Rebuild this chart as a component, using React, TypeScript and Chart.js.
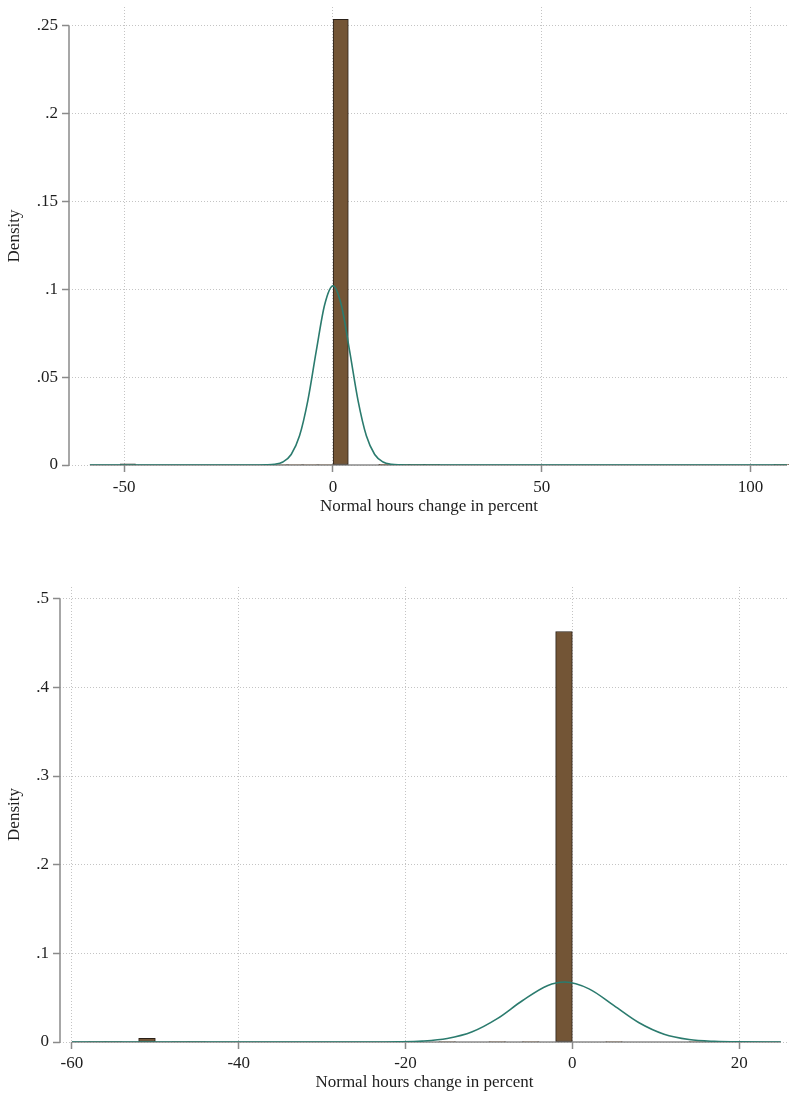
import React, { useEffect, useRef } from "react";
import { Chart, registerables } from "chart.js";

Chart.register(...registerables);

const FONT = "'Liberation Serif', 'DejaVu Serif', serif";
const TEXT = "#1e1e1e";
const BAR_FILL = "#735536";
const BAR_EDGE = "#2a2018";
const CURVE = "#2b7b6e";
const AXIS = "#8a8a8a";
const GRID = "#c4c4c4";

// ---------- Top panel data ----------
const topBinStart = -58.2;
const topBinWidth = 3.64;
const topDensity = [
  0, 0, 0.0006, 0, 0, 0, 0, 0, 0, 0,
  0, 0, 0.0003, 0.0003, 0.0003, 0.0003, 0.2538, 0, 0, 0.0002,
  0.0002, 0.0002, 0.0002, 0, 0, 0, 0, 0, 0, 0,
  0, 0, 0, 0, 0, 0, 0, 0, 0, 0,
  0, 0, 0, 0, 0, 0.0002,
];
const topCurveX = [-58.2, -30, -20, -16, -14, -12, -10, -8, -6, -4, -2, 0, 2, 4, 6, 8, 10, 12, 14, 16, 20, 30, 60, 108.7];
const topCurveY = [0, 0, 0, 0.0001, 0.0004, 0.0017, 0.006, 0.0166, 0.0368, 0.0648, 0.0911, 0.102, 0.0911, 0.0648, 0.0368, 0.0166, 0.006, 0.0017, 0.0004, 0.0001, 0, 0, 0, 0];
const topXTicks = [-50, 0, 50, 100];
const topYTicks = [0, 0.05, 0.1, 0.15, 0.2, 0.25];
const topXAxisSpan = [-58.2, 108.7];
const topYAxisSpan = [0, 0.25];
const topXLimits = [-63.2, 109.2];
const topYMax = 0.2608;

// ---------- Bottom panel data ----------
const botBinStart = -60;
const botBinWidth = 2;
const botDensity = [
  0, 0.0006, 0.0006, 0, 0.004, 0, 0.0006, 0.0006, 0, 0,
  0, 0, 0, 0, 0, 0, 0, 0, 0, 0,
  0, 0, 0.0006, 0, 0, 0.0006, 0, 0.0006, 0, 0.463,
  0, 0, 0.0006, 0, 0, 0, 0, 0.0006, 0, 0,
  0, 0, 0,
];
const botCurveX = [-60, -30, -24, -21, -18, -15, -12, -9, -6, -3, -0.9, 2, 5, 8, 11, 14, 17, 20, 25];
const botCurveY = [0, 0, 0, 0.0002, 0.001, 0.0039, 0.0115, 0.0263, 0.0465, 0.0635, 0.0676, 0.0599, 0.041, 0.0217, 0.0088, 0.0028, 0.0007, 0.0001, 0];
const botXTicks = [-60, -40, -20, 0, 20];
const botYTicks = [0, 0.1, 0.2, 0.3, 0.4, 0.5];
const botXAxisSpan = [-60, 25];
const botYAxisSpan = [0, 0.5];
const botXLimits = [-61.43, 25.98];
const botYMax = 0.5132;

const X_TITLE = "Normal hours change in percent";
const Y_TITLE = "Density";

const fmtY = (v: number) => {
  const s = String(+Number(v).toFixed(4));
  return s.replace(/^0\./, ".").replace(/^-0\./, "-.");
};

const axisLinesPlugin = {
  id: "axisLines",
  beforeDatasetsDraw(chart: any, _args: any, opts: any) {
    const { ctx, scales } = chart;
    const x = scales.x;
    const y = scales.y;
    ctx.save();
    ctx.strokeStyle = AXIS;
    ctx.lineWidth = 1.5;
    ctx.setLineDash([]);
    ctx.beginPath();
    const yb = y.getPixelForValue(0);
    ctx.moveTo(x.getPixelForValue(opts.xSpan[0]), yb);
    ctx.lineTo(x.getPixelForValue(opts.xSpan[1]), yb);
    const xl = chart.chartArea.left;
    ctx.moveTo(xl, y.getPixelForValue(opts.ySpan[0]) + 0.75);
    ctx.lineTo(xl, y.getPixelForValue(opts.ySpan[1]));
    ctx.stroke();
    ctx.restore();
  },
};

type PanelProps = {
  top: number;
  height: number;
  binStart: number;
  binWidth: number;
  density: number[];
  curveX: number[];
  curveY: number[];
  xTicks: number[];
  yTicks: number[];
  xSpan: number[];
  ySpan: number[];
  xLimits: number[];
  yMax: number;
  yAxisWidth: number;
  xAxisHeight: number;
  xTitlePadBottom: number;
  tickPad: number;
};

function Panel(p: PanelProps) {
  const ref = useRef<HTMLCanvasElement | null>(null);
  useEffect(() => {
    if (!ref.current) return;
    const bars = p.density.map((d, i) => ({ x: p.binStart + (i + 0.5) * p.binWidth, y: d }));
    const curve = p.curveX.map((x, i) => ({ x, y: p.curveY[i] }));
    const chart = new Chart(ref.current, {
      type: "bar",
      data: {
        datasets: [
          {
            type: "line",
            data: curve,
            borderColor: CURVE,
            borderWidth: 1.6,
            pointRadius: 0,
            fill: false,
            cubicInterpolationMode: "monotone",
            order: 0,
          } as any,
          {
            type: "bar",
            data: bars,
            backgroundColor: BAR_FILL,
            borderColor: BAR_EDGE,
            borderWidth: 1,
            borderSkipped: false,
            barPercentage: 1,
            categoryPercentage: 1,
            grouped: false,
            order: 1,
          } as any,
        ],
      },
      options: {
        animation: false,
        responsive: false,
        maintainAspectRatio: false,
        events: [],
        layout: { padding: { top: 7, right: 2, left: 0, bottom: 0 } },
        plugins: {
          legend: { display: false },
          tooltip: { enabled: false },
          axisLines: { xSpan: p.xSpan, ySpan: p.ySpan },
        } as any,
        scales: {
          x: {
            type: "linear",
            min: p.xLimits[0],
            max: p.xLimits[1],
            offset: false,
            afterBuildTicks: (s: any) => {
              s.ticks = p.xTicks.map((v) => ({ value: v }));
            },
            afterFit: (s: any) => {
              s.height = p.xAxisHeight;
              s.paddingLeft = 0;
              s.paddingRight = 0;
            },
            ticks: {
              autoSkip: false,
              maxRotation: 0,
              padding: p.tickPad,
              color: TEXT,
              font: { family: FONT, size: 17 },
              callback: (v: any) => String(v),
            },
            grid: {
              color: GRID,
              lineWidth: 1,
              offset: false,
              drawTicks: true,
              tickLength: 7,
              tickColor: AXIS,
              tickWidth: 1.5,
              tickBorderDash: [],
            },
            border: { display: false, dash: [1, 2] },
            title: {
              display: true,
              text: X_TITLE,
              color: TEXT,
              font: { family: FONT, size: 17 },
              padding: { top: 0, bottom: p.xTitlePadBottom },
            },
          } as any,
          y: {
            type: "linear",
            min: 0,
            max: p.yMax,
            afterBuildTicks: (s: any) => {
              s.ticks = p.yTicks.map((v) => ({ value: v }));
            },
            afterFit: (s: any) => {
              s.width = p.yAxisWidth;
              s.paddingTop = 0;
              s.paddingBottom = 0;
            },
            ticks: {
              padding: 4,
              color: TEXT,
              font: { family: FONT, size: 17 },
              callback: (v: any) => fmtY(v),
            },
            grid: {
              color: GRID,
              lineWidth: 1,
              drawTicks: true,
              tickLength: 7,
              tickColor: AXIS,
              tickWidth: 1.5,
              tickBorderDash: [],
            },
            border: { display: false, dash: [1, 2] },
            title: {
              display: true,
              text: Y_TITLE,
              color: TEXT,
              font: { family: FONT, size: 17 },
              padding: { top: 4, bottom: 0 },
            },
          } as any,
        },
      },
      plugins: [axisLinesPlugin as any],
    });
    return () => chart.destroy();
  }, []);
  return (
    <canvas
      ref={ref}
      width={791}
      height={p.height}
      style={{ position: "absolute", left: 0, top: p.top, width: 791, height: p.height, display: "block" }}
    />
  );
}

export default function App() {
  return (
    <div style={{ position: "absolute", left: 0, top: 0, width: 791, height: 1096, background: "#ffffff" }}>
      <Panel
        top={0}
        height={525}
        binStart={topBinStart}
        binWidth={topBinWidth}
        density={topDensity}
        curveX={topCurveX}
        curveY={topCurveY}
        xTicks={topXTicks}
        yTicks={topYTicks}
        xSpan={topXAxisSpan}
        ySpan={topYAxisSpan}
        xLimits={topXLimits}
        yMax={topYMax}
        yAxisWidth={69}
        xAxisHeight={60}
        xTitlePadBottom={8}
        tickPad={5}
      />
      <Panel
        top={580}
        height={516}
        binStart={botBinStart}
        binWidth={botBinWidth}
        density={botDensity}
        curveX={botCurveX}
        curveY={botCurveY}
        xTicks={botXTicks}
        yTicks={botYTicks}
        xSpan={botXAxisSpan}
        ySpan={botYAxisSpan}
        xLimits={botXLimits}
        yMax={botYMax}
        yAxisWidth={60}
        xAxisHeight={54}
        xTitlePadBottom={3}
        tickPad={4}
      />
    </div>
  );
}
